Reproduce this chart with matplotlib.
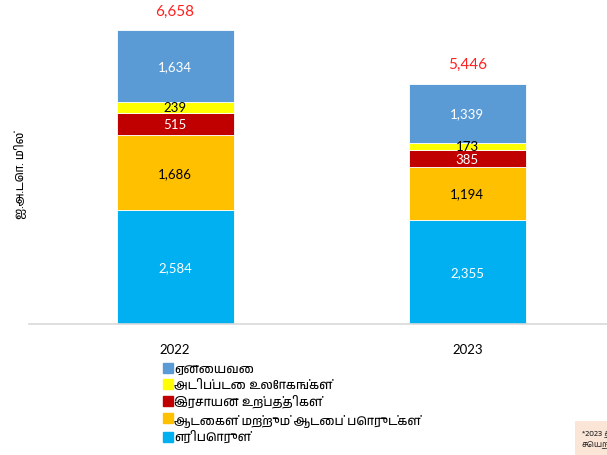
import matplotlib
matplotlib.use('Agg')
import matplotlib.pyplot as plt
from matplotlib import font_manager
from matplotlib.lines import Line2D
import numpy as np

years = ['2022', '2023']
categories = ['எரிபொருள்', 'ஆடைகள் மற்றும் ஆடைப் பொருட்கள்',
              'இரசாயன உற்பத்திகள்', 'அடிப்படை உலோகங்கள்', 'ஏனையவை']
fuel = [2584, 2355]
textiles = [1686, 1194]
chemicals = [515, 385]
metals = [239, 173]
other = [1634, 1339]
series = [fuel, textiles, chemicals, metals, other]

colors = ['#00B0F0', '#FFC000', '#C00000', '#FFFF00', '#5B9BD5']
label_colors = ['white', 'black', 'white', 'black', 'white']

# look for any installed font that covers Tamil
tamil = []
for f in font_manager.fontManager.ttflist:
    if 'tamil' in f.name.lower() and f.name not in tamil:
        tamil.append(f.name)
tamil_family = tamil + ['DejaVu Sans']

fig = plt.figure(figsize=(6.07, 4.56), dpi=100)
ax = fig.add_axes([29 / 607, 131 / 456, 584.5 / 607, 325 / 456])

x = np.arange(len(years))
bottom = np.zeros(len(years))
for vals, c, lc in zip(series, colors, label_colors):
    ax.bar(x, vals, 0.4, bottom=bottom, color=c, edgecolor='white',
           linewidth=0.6)
    for xi, b, v in zip(x, bottom, vals):
        ax.text(xi, b + v / 2, f'{v:,}', ha='center', va='center',
                color=lc, fontsize=9.5, family='Lato')
    bottom += vals

for xi, t in zip(x, bottom):
    ax.text(xi, t + 440, f'{int(t):,}', ha='center', va='center',
            color='#FF2020', fontsize=11, family='Lato')

ax.set_xlim(-0.5, 1.5)
ax.set_ylim(0, 7360)
ax.set_yticks([])
ax.set_xticks(x)
ax.set_xticklabels(years, fontsize=9.5, family='Lato')
ax.tick_params(axis='x', length=0, pad=14)
for s in ['top', 'right', 'left']:
    ax.spines[s].set_visible(False)
ax.spines['bottom'].set_color('#D9D9D9')
ax.spines['bottom'].set_linewidth(1.2)

fig.text(20 / 607, 1 - 175 / 456, 'ஐ.அ.டொ. மில்', rotation=90,
         ha='center', va='center', fontsize=8.5, family=tamil_family)

handles = [Line2D([], [], marker='s', linestyle='none', markersize=7,
                  markerfacecolor=c, markeredgecolor=c) for c in colors]
leg = fig.legend(handles[::-1], categories[::-1], loc='upper left',
                 bbox_to_anchor=(157 / 607, 1 - 358 / 456), frameon=False,
                 handlelength=0.7, handletextpad=0.2, labelspacing=0.35,
                 borderpad=0, prop={'family': tamil_family, 'size': 9})

# note box, cut by the right edge as in the original slide
fig.text(582 / 607, 1 - 439 / 456, '*2023 தற்காலிக\nசெயற்றிறன்',
         ha='left', va='center', fontsize=6, color='#333333',
         family=tamil_family,
         bbox=dict(boxstyle='square,pad=0.8', facecolor='#FBE5D6',
                   edgecolor='none'))

fig.savefig('out.png', dpi=100)
